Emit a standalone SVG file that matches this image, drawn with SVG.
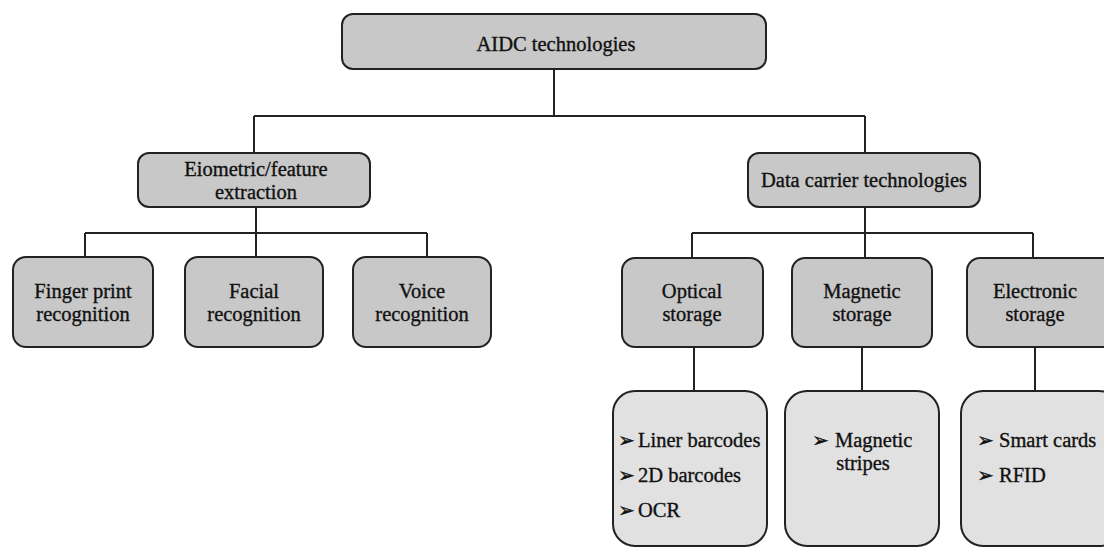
<svg xmlns="http://www.w3.org/2000/svg" width="1104" height="548" viewBox="0 0 1104 548">
<style>
.n{fill:#c8c8c8;stroke:#222;stroke-width:2}
.l{fill:#e1e1e1;stroke:#222;stroke-width:2}
.c{fill:none;stroke:#222;stroke-width:2}
text{font-family:"Liberation Serif","Times New Roman",serif;font-size:20.5px;fill:#111;stroke:#111;stroke-width:0.35}
.m{text-anchor:middle}
.a{font-family:"DejaVu Sans",sans-serif;font-size:20px}
</style>
<rect width="1104" height="548" fill="#fff"/>
<g id="connectors">
<path class="c" d="M554 69V116M254 116H865M254 116V153M865 116V153"/>
<path class="c" d="M256 207V257M85 233H427M85 233V257M427 233V257"/>
<path class="c" d="M865 207V258M692 233H1033M692 233V258M1033 233V258"/>
<path class="c" d="M694 347V391M862 347V391M1035 347V391"/>
</g>
<g id="aidc"><rect class="n" x="342" y="14" width="424" height="55" rx="11"/><text class="m" x="556" y="51">AIDC technologies</text></g>
<g id="biometric"><rect class="n" x="138" y="153" width="232" height="54" rx="11"/><text class="m" x="256" y="176">Eiometric/feature</text><text class="m" x="256" y="199">extraction</text></g>
<g id="datacarrier"><rect class="n" x="748" y="153" width="232" height="54" rx="11"/><text class="m" x="864" y="187">Data carrier technologies</text></g>
<g id="finger"><rect class="n" x="13" y="257" width="140" height="90" rx="13"/><text class="m" x="83" y="298">Finger print</text><text class="m" x="83" y="321">recognition</text></g>
<g id="facial"><rect class="n" x="185" y="257" width="138" height="90" rx="13"/><text class="m" x="254" y="298">Facial</text><text class="m" x="254" y="321">recognition</text></g>
<g id="voice"><rect class="n" x="353" y="257" width="138" height="90" rx="13"/><text class="m" x="422" y="298">Voice</text><text class="m" x="422" y="321">recognition</text></g>
<g id="optical"><rect class="n" x="622" y="258" width="141" height="89" rx="13"/><text class="m" x="692" y="298">Optical</text><text class="m" x="692" y="321">storage</text></g>
<g id="magnetic"><rect class="n" x="792" y="258" width="140" height="89" rx="13"/><text class="m" x="862" y="298">Magnetic</text><text class="m" x="862" y="321">storage</text></g>
<g id="electronic"><rect class="n" x="967" y="258" width="150" height="89" rx="13"/><text class="m" x="1035" y="298">Electronic</text><text class="m" x="1035" y="321">storage</text></g>
<g id="optical-list"><rect class="l" x="613" y="391" width="154" height="155" rx="22"/>
<text class="a" x="618" y="447">➢</text><text x="638" y="447">Liner barcodes</text>
<text class="a" x="618" y="482">➢</text><text x="638" y="482">2D barcodes</text>
<text class="a" x="618" y="517">➢</text><text x="638" y="517">OCR</text></g>
<g id="magnetic-list"><rect class="l" x="785" y="391" width="154" height="155" rx="22"/>
<text class="a" x="812" y="447">➢</text><text x="835" y="447">Magnetic</text><text class="m" x="863" y="470">stripes</text></g>
<g id="electronic-list"><rect class="l" x="961" y="391" width="160" height="155" rx="22"/>
<text class="a" x="977" y="447">➢</text><text x="999" y="447">Smart cards</text>
<text class="a" x="977" y="482">➢</text><text x="999" y="482">RFID</text></g>
</svg>
